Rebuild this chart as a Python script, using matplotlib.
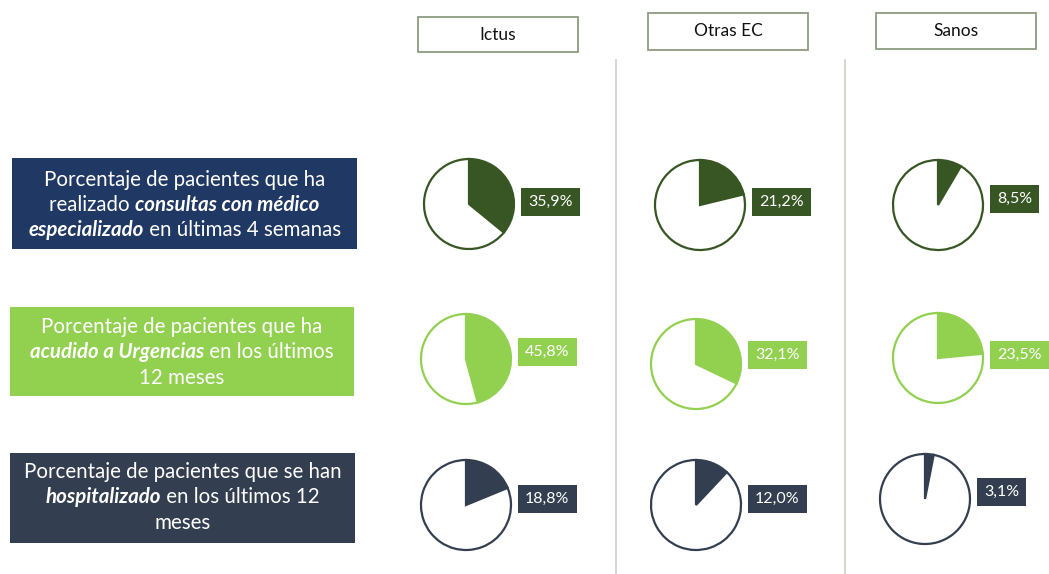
import matplotlib
matplotlib.use("Agg")
import matplotlib.pyplot as plt
from matplotlib.patches import Rectangle

groups = ["Ictus", "Otras EC", "Sanos"]
consultas = [35.9, 21.2, 8.5]
urgencias = [45.8, 32.1, 23.5]
hospitalizado = [18.8, 12.0, 3.1]

row_values = [consultas, urgencias, hospitalizado]
row_colors = ["#375623", "#92D050", "#333F50"]
box_colors = ["#1F3864", "#92D050", "#333F50"]

row_texts = [
    [[("Porcentaje de pacientes que ha", "n")],
     [("realizado ", "n"), ("consultas con médico", "bi")],
     [("especializado", "bi"), (" en últimas 4 semanas", "n")]],
    [[("Porcentaje de pacientes que ha", "n")],
     [("acudido a Urgencias", "bi"), (" en los últimos", "n")],
     [("12 meses", "n")]],
    [[("Porcentaje de pacientes que se han", "n")],
     [("hospitalizado", "bi"), (" en los últimos 12", "n")],
     [("meses", "n")]],
]

W, H = 1049, 574
FONT = "Lato"

# layout, in pixels from the top-left corner
header_boxes = [(418, 17, 160, 35), (648, 13, 160, 37), (876, 13, 160, 36)]
side_boxes = [(12, 158, 345, 91), (10, 307, 344, 89), (10, 453, 345, 90)]
line_ys = [[180, 205, 230], [327, 352, 378], [472, 497, 523]]
pie_cx = [[469, 700, 938], [466, 696, 938], [466, 696, 925]]
pie_cy = [[204, 205, 205], [359, 364, 358], [505, 505, 499]]
lab_y = [[202, 202, 199], [352, 355, 355], [499, 499, 492]]
R = 45


def py(y):
    return H - y


fig = plt.figure(figsize=(W / 100, H / 100), dpi=100)
ax = fig.add_axes([0, 0, 1, 1])

# pies first (ax.pie resets the limits)
for i, vals in enumerate(row_values):
    c = row_colors[i]
    for j, v in enumerate(vals):
        ax.pie([v, 100 - v], colors=[c, "white"], startangle=90,
               counterclock=False, center=(pie_cx[i][j], py(pie_cy[i][j])),
               radius=R, wedgeprops=dict(edgecolor=c, linewidth=1.6))

ax.set_xlim(0, W)
ax.set_ylim(0, H)
ax.set_aspect("auto")
ax.axis("off")

# column headers and separators
for (x, y, w, h), g in zip(header_boxes, groups):
    ax.add_patch(Rectangle((x, py(y + h)), w, h, fc="white", ec="#8C9C80", lw=1.3))
    ax.text(x + w / 2, py(y + h / 2), g, ha="center", va="center",
            fontsize=12.5, family=FONT, color="#111111")
for x in [616, 845]:
    ax.plot([x, x], [py(60), 0], color="#CFCFC8", lw=1.2)

fig.canvas.draw()
rend = fig.canvas.get_renderer()


def seg_width(s, style):
    kw = dict(fontsize=14.8, family=FONT)
    if style == "bi":
        kw.update(weight="bold", style="italic")
    t1 = ax.text(0, 0, "|" + s + "|", **kw)
    t2 = ax.text(0, 0, "||", **kw)
    w = t1.get_window_extent(rend).width - t2.get_window_extent(rend).width
    t1.remove()
    t2.remove()
    return w, kw


# side labels
for i, lines in enumerate(row_texts):
    x, y, w, h = side_boxes[i]
    ax.add_patch(Rectangle((x, py(y + h)), w, h, fc=box_colors[i], ec="none"))
    for k, segs in enumerate(lines):
        measured = [seg_width(s, st) for s, st in segs]
        total = sum(m[0] for m in measured)
        x0 = x + w / 2 - total / 2
        for (s, st), (sw, kw) in zip(segs, measured):
            ax.text(x0, py(line_ys[i][k]), s, ha="left", va="center",
                    color="white", **kw)
            x0 += sw

# value labels
for i, vals in enumerate(row_values):
    for j, v in enumerate(vals):
        txt = f"{v:.1f}".replace(".", ",") + "%"
        ax.text(pie_cx[i][j] + R + 14, py(lab_y[i][j]), txt, ha="left",
                va="center", fontsize=11.5, family=FONT, color="white",
                bbox=dict(boxstyle="square,pad=0.45", fc=row_colors[i], ec="none"))

fig.savefig("out.png", dpi=100)
